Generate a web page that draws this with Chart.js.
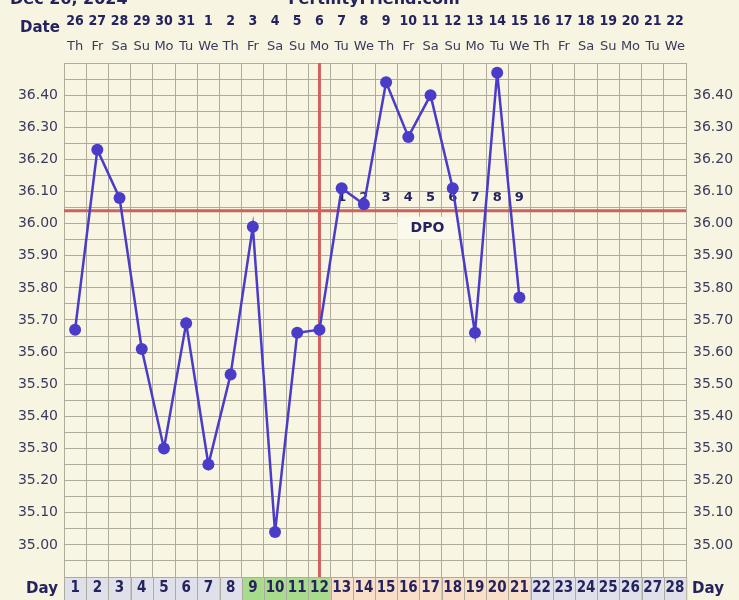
<!DOCTYPE html>
<html>
<head>
<meta charset="utf-8">
<script src="https://cdn.jsdelivr.net/npm/chart.js@4"></script>
<style>
  html, body { margin: 0; padding: 0; background: #f7f4e1; }
  canvas { display: block; }
</style>
</head>
<body>
<canvas id="c" width="739" height="600"></canvas>
<script>
// ---- data ----
const days = ['1','2','3','4','5','6','7','8','9','10','11','12','13','14','15','16','17','18','19','20','21','22','23','24','25','26','27','28'];
const dates = ['26','27','28','29','30','31','1','2','3','4','5','6','7','8','9','10','11','12','13','14','15','16','17','18','19','20','21','22'];
const weekdays = ['Th','Fr','Sa','Su','Mo','Tu','We','Th','Fr','Sa','Su','Mo','Tu','We','Th','Fr','Sa','Su','Mo','Tu','We','Th','Fr','Sa','Su','Mo','Tu','We'];
const temps = [35.67, 36.23, 36.08, 35.61, 35.30, 35.69, 35.25, 35.53, 35.99, 35.04, 35.66, 35.67, 36.11, 36.06, 36.44, 36.27, 36.40, 36.11, 35.66, 36.47, 35.77];
const dayPhase = ['pre','pre','pre','pre','pre','pre','pre','pre','fertile','fertile','fertile','fertile','post','post','post','post','post','post','post','post','post','future','future','future','future','future','future','future'];
const dpoLabels = ['1','2','3','4','5','6','7','8','9'];
const dpoStartDay = 13;
const ovulationDay = 12;
const coverline = 36.04;
const yMin = 34.90, yMax = 36.50, yStep = 0.05;
const yLabelMin = 35.00, yLabelMax = 36.40;
const headerLeft = 'Dec 26, 2024';
const headerCenter = 'FertilityFriend.com';

// ---- styles ----
const FONT = '"DejaVu Sans", Verdana, sans-serif';
const CFONT = '"DejaVu Sans Condensed", "DejaVu Sans", sans-serif';
const NAVY = '#25235e';
const TICK = '#3a3a5c';
const GRID = '#aeac9c';
const LINE = '#4a3cc9';
const RED = '#d0625c';
const PHASE_COLORS = { pre: '#dfe0e9', fertile: '#a9db8c', post: '#f9dfc7', future: '#dfe0e9' };

function yTicks(scale) {
  const t = [];
  const n = Math.round((yMax - yMin) / yStep);
  for (let i = 0; i <= n; i++) t.push({ value: Math.round((yMin + i * yStep) * 100) / 100 });
  scale.ticks = t;
}
function yLabel(v) {
  const r = Math.round(v * 100);
  if (r % 10 !== 0) return '';
  if (v < yLabelMin - 1e-6 || v > yLabelMax + 1e-6) return '';
  return v.toFixed(2);
}

const decor = {
  id: 'decor',
  beforeDraw(chart) {
    const ctx = chart.ctx, a = chart.chartArea, xs = chart.scales.x;
    ctx.save();
    ctx.fillStyle = '#f7f4e1';
    ctx.fillRect(0, 0, chart.width, chart.height);
    ctx.fillStyle = '#f8f6e3';
    ctx.fillRect(a.left, a.top, a.right - a.left, a.bottom - a.top);
    // day cells
    const w = (a.right - a.left) / days.length;
    for (let i = 0; i < days.length; i++) {
      const cx = xs.getPixelForValue(i);
      ctx.fillStyle = PHASE_COLORS[dayPhase[i]];
      ctx.fillRect(cx - w / 2, a.bottom, w, chart.height - a.bottom);
      ctx.strokeStyle = GRID;
      ctx.lineWidth = 1;
      ctx.strokeRect(Math.round(cx - w / 2) + 0.5, a.bottom + 0.5, w, chart.height - a.bottom);
    }
    // header texts
    ctx.fillStyle = NAVY;
    ctx.font = 'bold 16px ' + FONT;
    ctx.textBaseline = 'alphabetic';
    ctx.textAlign = 'left';
    ctx.fillText(headerLeft, 10, 4);
    ctx.textAlign = 'center';
    ctx.fillText(headerCenter, 374, 4);
    ctx.font = 'bold 15px ' + FONT;
    ctx.textBaseline = 'middle';
    ctx.fillText('Date', 40, 28);
    ctx.fillText('Day', 42, 589);
    ctx.fillText('Day', 708, 589);
    ctx.restore();
  },
  beforeDatasetsDraw(chart) {
    const ctx = chart.ctx, a = chart.chartArea, xs = chart.scales.x, ys = chart.scales.y;
    ctx.save();
    ctx.strokeStyle = RED;
    ctx.lineWidth = 3;
    const cy = ys.getPixelForValue(coverline);
    ctx.beginPath();
    ctx.moveTo(a.left, cy); ctx.lineTo(a.right, cy);
    const ox = xs.getPixelForValue(ovulationDay - 1);
    ctx.moveTo(ox, a.top); ctx.lineTo(ox, a.bottom);
    ctx.stroke();
    // DPO numbers
    ctx.fillStyle = NAVY;
    ctx.font = 'bold 13px ' + FONT;
    ctx.textAlign = 'center';
    ctx.textBaseline = 'middle';
    dpoLabels.forEach((l, i) => {
      ctx.fillText(l, xs.getPixelForValue(dpoStartDay - 1 + i), cy - 13);
    });
    // DPO box
    const bx = (xs.getPixelForValue(15) + xs.getPixelForValue(16)) / 2 + 8;
    ctx.fillStyle = '#fbf9ec';
    ctx.fillRect(bx - 30, cy + 6, 60, 23);
    ctx.fillStyle = NAVY;
    ctx.font = 'bold 14px ' + FONT;
    ctx.fillText('DPO', bx, cy + 18);
    ctx.restore();
  }
};

new Chart(document.getElementById('c'), {
  type: 'line',
  data: {
    labels: days,
    datasets: [{
      data: temps,
      borderColor: LINE,
      backgroundColor: LINE,
      borderWidth: 2.5,
      pointRadius: 6,
      pointBackgroundColor: LINE,
      pointBorderWidth: 0,
      tension: 0,
      fill: false
    }]
  },
  options: {
    responsive: false,
    animation: false,
    devicePixelRatio: 1,
    layout: { padding: { top: 10, left: 0, right: 0, bottom: 0 } },
    plugins: { legend: { display: false }, tooltip: { enabled: false } },
    scales: {
      x: {
        type: 'category',
        position: 'bottom',
        offset: true,
        grid: { offset: true, color: GRID, lineWidth: 1, drawTicks: false },
        border: { color: GRID },
        ticks: { color: NAVY, font: { family: CFONT, size: 15, weight: 'bold' }, padding: 2, autoSkip: false, maxRotation: 0 },
        afterFit(s) { s.height = 23; }
      },
      xw: {
        type: 'category',
        position: 'top',
        weight: 1,
        labels: weekdays,
        offset: true,
        grid: { display: false, drawTicks: false },
        border: { display: false },
        ticks: { color: TICK, font: { family: FONT, size: 13 }, padding: 9, autoSkip: false, maxRotation: 0 },
        afterFit(s) { s.height = 27; }
      },
      xd: {
        type: 'category',
        position: 'top',
        weight: 2,
        labels: dates,
        offset: true,
        grid: { display: false, drawTicks: false },
        border: { display: false },
        ticks: { color: NAVY, font: { family: CFONT, size: 14, weight: 'bold' }, padding: 6, autoSkip: false, maxRotation: 0 },
        afterFit(s) { s.height = 26; }
      },
      y: {
        type: 'linear',
        position: 'left',
        min: yMin, max: yMax,
        afterBuildTicks: yTicks,
        grid: { color: GRID, lineWidth: 1, drawTicks: false },
        border: { color: GRID },
        ticks: { color: TICK, font: { family: FONT, size: 14 }, padding: 6, autoSkip: false, callback: yLabel },
        afterFit(s) { s.width = 64; }
      },
      y2: {
        type: 'linear',
        position: 'right',
        min: yMin, max: yMax,
        afterBuildTicks: yTicks,
        grid: { display: false, drawTicks: false },
        border: { color: GRID },
        ticks: { color: TICK, font: { family: FONT, size: 14 }, padding: 7, autoSkip: false, callback: yLabel },
        afterFit(s) { s.width = 53; }
      }
    }
  },
  plugins: [decor]
});
</script>
</body>
</html>
